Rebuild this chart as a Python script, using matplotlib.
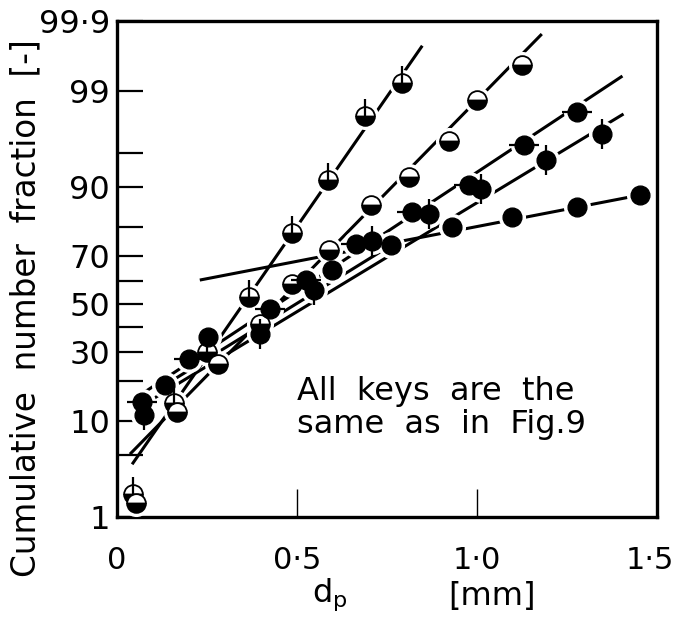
import matplotlib
matplotlib.use('Agg')
import matplotlib.pyplot as plt
import matplotlib.transforms as mtransforms
import numpy as np
from statistics import NormalDist
from matplotlib.path import Path

# cumulative number fraction [%] vs particle diameter dp [mm], normal probability paper
a_x = [0.044, 0.158, 0.249, 0.368, 0.485, 0.587, 0.690, 0.792]
a_y = [1.9, 14.0, 30.0, 53.0, 78.1, 91.2, 98.0, 99.2]
a_fit_x = [0.042, 0.848]
a_fit_y = [4.0, 99.76]

b_x = [0.053, 0.166, 0.280, 0.396, 0.485, 0.590, 0.706, 0.812, 0.922, 1.000, 1.125]
b_y = [1.5, 11.9, 25.6, 41.3, 58.7, 72.2, 86.0, 91.7, 96.2, 98.7, 99.55]
b_fit_x = [0.036, 1.18]
b_fit_y = [5.05, 99.84]

c_x = [0.069, 0.199, 0.424, 0.526, 0.665, 0.820, 0.978, 1.130, 1.277]
c_y = [14.2, 27.4, 47.8, 60.3, 74.4, 84.2, 90.3, 95.9, 98.2]
c_fit_x = [0.069, 1.404]
c_fit_y = [16.3, 99.36]

d_x = [0.075, 0.396, 0.548, 0.709, 0.867, 1.011, 1.191, 1.346]
d_y = [11.3, 37.1, 56.1, 75.4, 83.7, 89.6, 94.2, 96.8]
d_fit_x = [0.072, 1.407]
d_fit_y = [13.5, 98.1]

e_x = [0.133, 0.252, 0.596, 0.762, 0.931, 1.097, 1.277, 1.454]
e_y = [18.8, 35.9, 64.5, 74.0, 80.0, 82.9, 85.5, 88.3]
e_fit1_x = [0.133, 0.762]
e_fit1_y = [18.8, 74.0]
e_fit2_x = [0.230, 1.454]
e_fit2_y = [60.3, 88.3]

yticks_major = [1, 10, 30, 50, 70, 90, 99, 99.9]
ytick_labels = ['1', '10', '30', '50', '70', '90', '99', '99·9']
yticks_minor = [5, 20, 40, 60, 80, 95]
xticks = [0, 0.5, 1.0, 1.5]
xtick_labels = ['0', '0·5', '1·0', '1·5']

nd = NormalDist()

def to_probit(p):
    p = np.clip(np.asarray(p, dtype=float), 1e-4, 100 - 1e-4)
    return np.vectorize(lambda v: nd.inv_cdf(v / 100.0), otypes=[float])(p)

def from_probit(z):
    return np.vectorize(lambda v: nd.cdf(v) * 100.0, otypes=[float])(np.asarray(z, dtype=float))

plt.rcParams['font.family'] = 'DejaVu Sans'

fig = plt.figure(figsize=(6.77, 6.17), dpi=100)
ax = fig.add_axes([117/677, 1 - 517/617, (657 - 117)/677, (517 - 21)/617])
ax.set_yscale('function', functions=(to_probit, from_probit))
ax.set_xlim(0, 1.5)
ax.set_ylim(1, 99.9)

lw = 2.2
for fx, fy in [(a_fit_x, a_fit_y), (b_fit_x, b_fit_y), (c_fit_x, c_fit_y),
               (d_fit_x, d_fit_y), (e_fit1_x, e_fit1_y), (e_fit2_x, e_fit2_y)]:
    ax.plot(fx, fy, color='black', lw=lw, solid_capstyle='butt', zorder=2)

ms = 13.5
# white halo so lines break around the symbols
for xs, ys in [(a_x, a_y), (b_x, b_y), (c_x, c_y), (d_x, d_y), (e_x, e_y)]:
    ax.plot(xs, ys, 'o', ms=ms + 6, color='white', mew=0, zorder=3)

up_tick = Path([(0, 0), (0, 1)], [Path.MOVETO, Path.LINETO])

# half filled, tick on top
ax.plot(a_x, a_y, 'o', ms=ms, fillstyle='bottom', mfc='black', mfcalt='white',
        mec='black', mew=1.3, zorder=4)
ax.plot(a_x, a_y, marker=up_tick, ls='none', ms=25, mec='black', mew=1.6, zorder=4)
# half filled
ax.plot(b_x, b_y, 'o', ms=ms, fillstyle='bottom', mfc='black', mfcalt='white',
        mec='black', mew=1.3, zorder=4)
# filled, side ticks
ax.plot(c_x, c_y, 'o', ms=ms, color='black', mew=1, zorder=4)
ax.plot(c_x, c_y, '_', ms=22, mec='black', mew=1.6, zorder=4)
# filled, vertical ticks
ax.plot(d_x, d_y, 'o', ms=ms, color='black', mew=1, zorder=4)
ax.plot(d_x, d_y, '|', ms=22, mec='black', mew=1.6, zorder=4)
# filled
ax.plot(e_x, e_y, 'o', ms=ms, color='black', mew=1, zorder=4)

for s in ax.spines.values():
    s.set_linewidth(2.4)

ax.set_yticks(yticks_major)
ax.set_yticklabels(ytick_labels)
ax.set_yticks(yticks_minor, minor=True)
ax.set_yticklabels([], minor=True)
ax.tick_params(axis='y', which='both', direction='in', length=19, width=1.6,
               labelsize=23, pad=5)
ax.set_xticks(xticks)
ax.set_xticklabels(xtick_labels)
ax.xaxis.set_minor_locator(matplotlib.ticker.NullLocator())
ax.tick_params(axis='x', which='both', direction='in', length=20, width=1.0,
               labelsize=22, pad=21)
last = ax.get_xticklabels()[-1]
last.set_transform(last.get_transform() + mtransforms.ScaledTranslation(-7/100, 0, fig.dpi_scale_trans))

fig.text(26/677, 1 - 308/617, 'Cumulative  number  fraction  [-]', rotation=90,
         ha='center', va='center', fontsize=23.5)
fig.text(330/677, 1 - 595/617, r'd$_\mathregular{p}$', ha='center', va='center', fontsize=23)
fig.text(492/677, 1 - 597/617, '[mm]', ha='center', va='center', fontsize=23)

fig.text(297/677, 1 - 376/617, 'All  keys  are  the\nsame  as  in  Fig.9', ha='left', va='top',
         fontsize=23, linespacing=1.1)

fig.savefig('out.png', dpi=100)
